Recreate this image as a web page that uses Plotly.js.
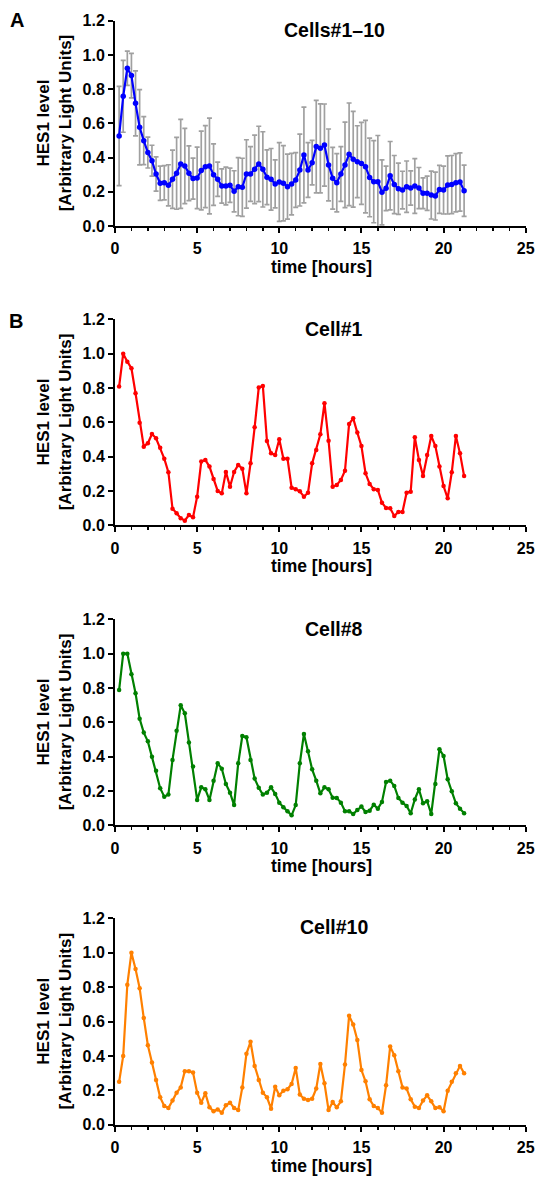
<!DOCTYPE html>
<html>
<head>
<meta charset="utf-8">
<script src="https://cdn.plot.ly/plotly-3.0.1.min.js"></script>
<style>html,body{margin:0;padding:0;background:#fff;}#chart{width:550px;height:1182px;}</style>
</head>
<body>
<div id="chart"></div>
<script>
const times = [0.25,0.5,0.75,1,1.25,1.5,1.75,2,2.25,2.5,2.75,3,3.25,3.5,3.75,4,4.25,4.5,4.75,5,
5.25,5.5,5.75,6,6.25,6.5,6.75,7,7.25,7.5,7.75,8,8.25,8.5,8.75,9,9.25,9.5,9.75,10,
10.25,10.5,10.75,11,11.25,11.5,11.75,12,12.25,12.5,12.75,13,13.25,13.5,13.75,14,14.25,14.5,14.75,15,
15.25,15.5,15.75,16,16.25,16.5,16.75,17,17.25,17.5,17.75,18,18.25,18.5,18.75,19,19.25,19.5,19.75,20,
20.25,20.5,20.75,21,21.25];

const meanCells1to10 = [0.526,0.758,0.922,0.879,0.717,0.577,0.499,0.429,0.382,0.304,0.250,0.253,0.238,0.273,0.308,0.363,0.351,0.308,0.277,0.281,
0.324,0.347,0.351,0.300,0.273,0.234,0.234,0.238,0.203,0.230,0.226,0.304,0.304,0.331,0.363,0.331,0.285,0.273,0.246,0.257,
0.250,0.230,0.245,0.269,0.327,0.415,0.327,0.370,0.464,0.454,0.473,0.357,0.279,0.253,0.304,0.357,0.419,0.390,0.376,0.366,
0.347,0.284,0.259,0.259,0.197,0.220,0.294,0.242,0.218,0.210,0.230,0.222,0.234,0.222,0.191,0.191,0.181,0.175,0.214,0.210,
0.240,0.242,0.253,0.257,0.206];

const errCells1to10 = [0.29,0.21,0.10,0.13,0.19,0.22,0.14,0.09,0.09,0.10,0.10,0.10,0.12,0.17,0.21,0.26,0.22,0.16,0.12,0.18,
0.23,0.24,0.28,0.18,0.10,0.10,0.11,0.10,0.12,0.17,0.17,0.20,0.16,0.20,0.22,0.22,0.16,0.18,0.14,0.23,
0.22,0.19,0.18,0.16,0.21,0.28,0.16,0.13,0.27,0.26,0.24,0.21,0.18,0.17,0.16,0.25,0.30,0.28,0.21,0.24,
0.27,0.23,0.24,0.27,0.19,0.13,0.20,0.17,0.15,0.11,0.15,0.10,0.16,0.12,0.09,0.10,0.14,0.14,0.14,0.14,
0.17,0.17,0.17,0.17,0.15];

const cell1 = [0.808,1.000,0.953,0.915,0.769,0.598,0.458,0.478,0.532,0.507,0.452,0.388,0.309,0.097,0.070,0.041,0.027,0.060,0.047,0.167,
0.371,0.381,0.342,0.270,0.200,0.186,0.311,0.225,0.311,0.351,0.330,0.186,0.361,0.571,0.802,0.812,0.491,0.419,0.410,0.501,
0.388,0.388,0.219,0.210,0.198,0.167,0.190,0.361,0.439,0.530,0.711,0.493,0.225,0.235,0.264,0.318,0.590,0.623,0.540,0.462,
0.303,0.241,0.210,0.206,0.132,0.101,0.099,0.054,0.078,0.078,0.190,0.196,0.513,0.381,0.287,0.410,0.520,0.462,0.342,0.229,
0.157,0.309,0.520,0.419,0.287];

const cell8 = [0.788,1.000,1.000,0.880,0.769,0.621,0.540,0.489,0.400,0.318,0.216,0.167,0.179,0.381,0.551,0.699,0.652,0.482,0.342,0.148,
0.221,0.210,0.148,0.260,0.361,0.330,0.241,0.190,0.118,0.361,0.520,0.513,0.381,0.272,0.219,0.179,0.190,0.221,0.183,0.132,
0.105,0.082,0.058,0.118,0.361,0.532,0.431,0.326,0.260,0.186,0.221,0.210,0.161,0.159,0.132,0.082,0.082,0.066,0.089,0.109,
0.078,0.085,0.120,0.097,0.136,0.252,0.260,0.229,0.159,0.132,0.113,0.070,0.151,0.210,0.128,0.140,0.066,0.241,0.443,0.404,
0.268,0.198,0.128,0.097,0.070];

const cell10 = [0.249,0.400,0.814,1.000,0.905,0.794,0.621,0.462,0.361,0.260,0.159,0.109,0.097,0.140,0.186,0.217,0.311,0.311,0.303,0.186,
0.128,0.183,0.101,0.078,0.089,0.070,0.113,0.128,0.097,0.085,0.217,0.412,0.482,0.342,0.260,0.186,0.159,0.093,0.221,0.171,
0.198,0.206,0.237,0.330,0.175,0.151,0.144,0.151,0.210,0.353,0.241,0.085,0.132,0.101,0.136,0.350,0.633,0.583,0.493,0.318,
0.252,0.148,0.109,0.097,0.070,0.229,0.454,0.404,0.311,0.217,0.210,0.148,0.105,0.097,0.140,0.171,0.136,0.097,0.101,0.078,
0.198,0.249,0.299,0.342,0.299];

const panelTitles = ['Cells#1\u201310','Cell#1','Cell#8','Cell#10'];
const yTitle = 'HES1 level<br>[Arbitrary Light Units]';
const xTitle = 'time [hours]';
const xTicks = [0,5,10,15,20,25];
const yTicks = [0,0.2,0.4,0.6,0.8,1.0,1.2];

const W = 550, H = 1182;
const FONT = 'Liberation Sans, Arial, Helvetica, sans-serif';
const px = v => v / W;
const py = v => 1 - v / H;
const xDom = [px(115), px(525.7)];
// [top px, bottom px] for each panel
const panels = [[20.7,226],[319.3,525.3],[619.3,825.3],[918.3,1124.7]];

function xAxis(anchor){
  return {domain:xDom, anchor:anchor, range:[0,25], tickvals:xTicks, ticktext:xTicks.map(String),
    showline:true, linewidth:2, linecolor:'#000', ticks:'outside', ticklen:5, tickwidth:2, tickcolor:'#000',
    showgrid:false, zeroline:false, ticklabelstandoff:2,
    tickfont:{family:FONT, size:16, color:'#000', weight:'bold'},
    minor:{dtick:1, tick0:0, ticks:'outside', ticklen:3, tickwidth:1.5, tickcolor:'#000', showgrid:false}};
}
function yAxis(anchor, dom){
  return {domain:dom, anchor:anchor, range:[0,1.2], tickvals:yTicks, ticktext:yTicks.map(v=>v.toFixed(1)),
    showline:true, linewidth:2, linecolor:'#000', ticks:'outside', ticklen:5, tickwidth:2, tickcolor:'#000',
    showgrid:false, zeroline:false, ticklabelstandoff:0,
    tickfont:{family:FONT, size:16, color:'#000', weight:'bold'}};
}

const layout = {width:W, height:H, margin:{l:0,r:0,t:0,b:0}, showlegend:false,
  paper_bgcolor:'#fff', plot_bgcolor:'#fff', annotations:[]};

panels.forEach((p,k)=>{
  const sfx = k===0 ? '' : String(k+1);
  layout['xaxis'+sfx] = xAxis('y'+sfx);
  layout['yaxis'+sfx] = yAxis('x'+sfx, [py(p[1]), py(p[0])]);
  const titleY = [30,329,629,927][k];
  layout.annotations.push({xref:'paper', yref:'paper', x:px(334), y:py(titleY), xanchor:'center', yanchor:'middle',
    text:'<b>'+panelTitles[k]+'</b>', showarrow:false, font:{family:FONT, size:19.5, color:'#000'}});
  layout.annotations.push({xref:'paper', yref:'paper', x:px(54), y:py((p[0]+p[1])/2), xanchor:'center', yanchor:'middle',
    text:'<b>'+yTitle+'</b>', textangle:-90, showarrow:false, font:{family:FONT, size:17, color:'#000'}});
  layout.annotations.push({xref:'paper', yref:'paper', x:px(321), y:py(p[1]+41), xanchor:'center', yanchor:'middle',
    text:'<b>'+xTitle+'</b>', showarrow:false, font:{family:FONT, size:17.5, color:'#000'}});
});
layout.annotations.push({xref:'paper', yref:'paper', x:px(17), y:py(20), xanchor:'center', yanchor:'middle',
  text:'<b>A</b>', showarrow:false, font:{family:FONT, size:20, color:'#000'}});
layout.annotations.push({xref:'paper', yref:'paper', x:px(16), y:py(321), xanchor:'center', yanchor:'middle',
  text:'<b>B</b>', showarrow:false, font:{family:FONT, size:20, color:'#000'}});

const data = [
  {x:times, y:meanCells1to10, xaxis:'x', yaxis:'y', type:'scatter', mode:'markers',
   marker:{size:5, color:'rgba(0,0,0,0)'},
   error_y:{type:'data', array:errCells1to10, symmetric:true, color:'#a0a0a0', thickness:1.7, width:2.5}},
  {x:times, y:meanCells1to10, xaxis:'x', yaxis:'y', type:'scatter', mode:'lines+markers',
   line:{color:'#0000ff', width:2.2}, marker:{color:'#0000ff', size:5.5}},
  {x:times, y:cell1, xaxis:'x2', yaxis:'y2', type:'scatter', mode:'lines+markers',
   line:{color:'#ff0000', width:2.2}, marker:{color:'#ff0000', size:4.5}},
  {x:times, y:cell8, xaxis:'x3', yaxis:'y3', type:'scatter', mode:'lines+markers',
   line:{color:'#008000', width:2.2}, marker:{color:'#008000', size:4.5}},
  {x:times, y:cell10, xaxis:'x4', yaxis:'y4', type:'scatter', mode:'lines+markers',
   line:{color:'#ff8000', width:2.2}, marker:{color:'#ff8000', size:4.5}}
];

Plotly.newPlot('chart', data, layout, {staticPlot:true, displayModeBar:false});
</script>
</body>
</html>
